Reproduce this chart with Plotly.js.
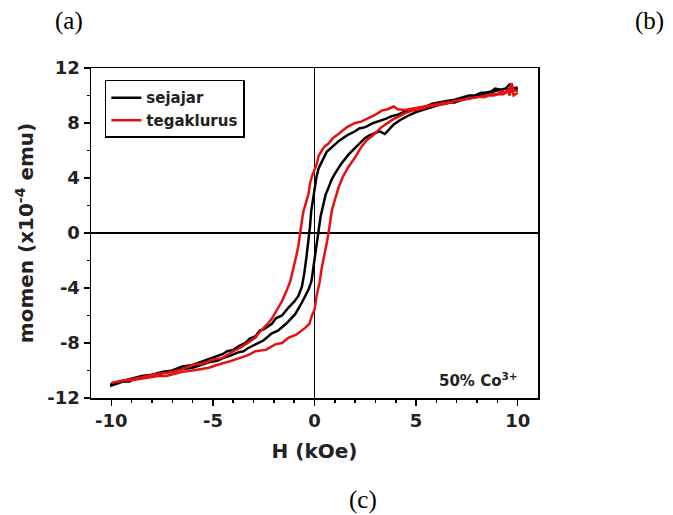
<!DOCTYPE html>
<html>
<head>
<meta charset="utf-8">
<script src="https://cdn.plot.ly/plotly-3.0.1.min.js"></script>
<style>html,body{margin:0;padding:0;background:#fff;}#chart{width:673px;height:515px;}</style>
</head>
<body>
<div id="chart"></div>
<script>
// sejajar (parallel) loop: descending branch then ascending branch
const sejajarH = [10.0, 9.8, 9.6, 9.4, 9.2, 8.9, 8.7, 8.4, 8.2, 7.9, 7.6, 7.2, 6.9, 6.5, 6.2, 5.8, 5.5, 5.2, 4.9, 4.6, 4.4, 4.1, 3.8, 3.5, 3.3, 2.9, 2.5, 2.2, 2.0, 1.6, 1.2, 0.9, 0.6, 0.4, 0.2, 0.1, 0.03, -0.05, -0.1, -0.16, -0.22, -0.29, -0.4, -0.5, -0.62, -0.8, -1.0, -1.27, -1.6, -1.9, -2.1, -2.5, -2.7, -2.9, -3.2, -3.4, -3.7, -4.0, -4.3, -4.5, -4.9, -5.2, -5.6, -6.0, -6.5, -7.0, -7.5, -8.0, -8.5, -9.0, -9.3, -9.6, -10.0,
  -10.0, -9.7, -9.5, -9.1, -8.8, -8.4, -8.0, -7.5, -7.0, -6.5, -6.0, -5.6, -5.2, -4.8, -4.5, -4.1, -3.8, -3.5, -3.3, -2.9, -2.5, -2.1, -1.8, -1.4, -0.95, -0.6, -0.29, -0.15, -0.05, 0.05, 0.11, 0.2, 0.3, 0.44, 0.55, 0.69, 0.85, 1.0, 1.3, 1.67, 2.0, 2.3, 2.48, 2.7, 2.9, 3.2, 3.46, 3.7, 3.9, 4.2, 4.44, 4.7, 5.0, 5.4, 5.7, 6.0, 6.3, 6.6, 6.9, 7.3, 7.6, 8.0, 8.3, 8.6, 8.9, 9.2, 9.4, 9.7, 10.0];
const sejajarM = [10.6, 10.5, 10.8, 10.5, 10.4, 10.5, 10.3, 10.2, 10.2, 10.0, 10.0, 9.8, 9.7, 9.6, 9.5, 9.4, 9.2, 9.1, 9.0, 8.9, 8.8, 8.6, 8.5, 8.3, 8.2, 8.0, 7.7, 7.6, 7.4, 7.1, 6.7, 6.3, 5.9, 5.3, 4.7, 4.1, 3.4, 2.8, 2.2, 1.6, 0.5, -0.6, -1.8, -2.9, -3.9, -4.6, -5.0, -5.4, -6.0, -6.2, -6.6, -7.0, -7.1, -7.5, -7.7, -8.0, -8.2, -8.5, -8.6, -8.8, -9.0, -9.2, -9.4, -9.6, -9.7, -10.0, -10.1, -10.3, -10.4, -10.6, -10.7, -10.9, -11.1,
  -11.0, -10.9, -10.8, -10.8, -10.5, -10.5, -10.4, -10.2, -10.1, -9.9, -9.8, -9.6, -9.4, -9.3, -9.1, -8.9, -8.7, -8.6, -8.4, -8.1, -7.8, -7.3, -7.1, -6.6, -5.9, -5.0, -4.1, -3.5, -2.4, -1.3, -0.6, 0.4, 1.2, 2.1, 2.8, 3.3, 3.9, 4.3, 5.0, 5.7, 6.2, 6.6, 6.9, 7.1, 7.2, 7.4, 7.2, 7.6, 7.9, 8.2, 8.4, 8.6, 8.8, 9.0, 9.1, 9.3, 9.4, 9.5, 9.5, 9.7, 9.8, 9.9, 10.1, 10.2, 10.3, 10.4, 10.5, 10.4, 10.4];
// tegaklurus (perpendicular) loop: descending branch then ascending branch
const tegakH = [10.0, 9.8, 9.7, 9.6, 9.4, 9.2, 9.0, 8.7, 8.4, 8.0, 7.7, 7.3, 6.9, 6.5, 6.1, 5.7, 5.4, 4.9, 4.44, 4.1, 3.9, 3.6, 3.3, 3.0, 2.7, 2.3, 2.0, 1.6, 1.18, 0.9, 0.69, 0.5, 0.36, 0.2, 0.11, 0.0, -0.13, -0.22, -0.29, -0.4, -0.54, -0.62, -0.7, -0.78, -0.87, -1.0, -1.19, -1.4, -1.6, -1.85, -2.09, -2.3, -2.5, -2.7, -2.9, -3.2, -3.6, -4.0, -4.54, -5.0, -5.5, -6.0, -6.5, -7.0, -7.5, -8.0, -8.5, -9.0, -9.3, -9.6, -10.0,
  -10.0, -9.7, -9.4, -9.0, -8.5, -8.1, -7.7, -7.3, -7.0, -6.5, -6.0, -5.6, -5.2, -4.8, -4.54, -4.1, -3.7, -3.3, -2.9, -2.4, -1.93, -1.6, -1.27, -0.9, -0.46, -0.25, -0.13, 0.0, 0.11, 0.25, 0.36, 0.5, 0.62, 0.69, 0.78, 0.85, 1.0, 1.18, 1.4, 1.67, 2.0, 2.32, 2.6, 2.8, 3.3, 3.6, 3.9, 4.2, 4.44, 4.8, 5.2, 5.6, 6.0, 6.5, 6.9, 7.3, 7.7, 8.1, 8.5, 8.8, 9.1, 9.3, 9.5, 9.6, 9.7, 9.8, 10.0];
const tegakM = [10.3, 10.4, 10.9, 10.4, 10.2, 10.3, 10.1, 10.1, 9.9, 9.9, 9.8, 9.7, 9.6, 9.5, 9.4, 9.3, 9.2, 9.1, 8.95, 9.0, 9.2, 9.0, 8.9, 8.6, 8.4, 8.1, 8.0, 7.7, 7.2, 6.9, 6.5, 6.3, 6.0, 5.6, 5.0, 4.6, 4.1, 3.6, 2.9, 2.3, 1.6, 0.9, 0.0, -0.8, -1.5, -2.4, -3.5, -4.3, -4.95, -5.6, -6.2, -6.6, -6.9, -7.2, -7.6, -7.9, -8.3, -8.6, -9.1, -9.2, -9.5, -9.6, -9.9, -10.1, -10.2, -10.3, -10.5, -10.6, -10.7, -10.8, -10.9,
  -10.9, -10.8, -10.7, -10.7, -10.6, -10.5, -10.4, -10.4, -10.3, -10.1, -10.0, -9.9, -9.8, -9.6, -9.5, -9.3, -9.1, -8.9, -8.6, -8.5, -8.1, -8.0, -7.6, -7.4, -6.9, -6.6, -6.0, -5.6, -4.5, -3.6, -2.5, -1.6, -0.6, 0.0, 0.9, 1.6, 2.4, 3.3, 4.1, 4.8, 5.5, 6.3, 6.8, 7.0, 7.7, 8.0, 8.3, 8.5, 8.7, 8.9, 9.0, 9.2, 9.3, 9.4, 9.6, 9.7, 9.8, 9.9, 10.0, 10.0, 10.1, 10.1, 10.4, 10.0, 10.6, 10.0, 10.2];

const tickLabelsX = ['-10', '-5', '0', '5', '10'];
const tickLabelsY = ['-12', '-8', '-4', '0', '4', '8', '12'];

const data = [
  {x: sejajarH, y: sejajarM, type: 'scatter', mode: 'lines', name: 'sejajar',
   line: {color: '#000000', width: 2.5}},
  {x: tegakH, y: tegakM, type: 'scatter', mode: 'lines', name: 'tegaklurus',
   line: {color: '#e8100f', width: 2.5}}
];

const sans = 'DejaVu Sans, Verdana, sans-serif';
const serif = 'Liberation Serif, Times New Roman, serif';
const tickFont = {family: sans, size: 18, color: '#222', weight: 'bold'};
const layout = {
  width: 673, height: 515,
  margin: {l: 91, r: 135, t: 68, b: 117},
  paper_bgcolor: '#ffffff', plot_bgcolor: '#ffffff',
  showlegend: true,
  legend: {x: 0.031, y: 0.964, xanchor: 'left', yanchor: 'top',
    bordercolor: '#000', borderwidth: 1.5, bgcolor: 'rgba(255,255,255,0)',
    font: {family: sans, size: 15, color: '#222', weight: 'bold'},
    tracegroupgap: 0, itemwidth: 30},
  xaxis: {range: [-11, 11], tickvals: [-10, -5, 0, 5, 10], ticktext: tickLabelsX,
    ticks: 'outside', ticklen: 6, tickwidth: 1.5, tickcolor: '#000',
    minor: {tickvals: [-9,-8,-7,-6,-4,-3,-2,-1,1,2,3,4,6,7,8,9], ticks: 'outside', ticklen: 3, tickwidth: 1.5, tickcolor: '#000'},
    showline: true, linecolor: '#000', linewidth: 1.5, mirror: true,
    showgrid: false, zeroline: true, zerolinecolor: '#000', zerolinewidth: 1.5,
    tickfont: tickFont,
    title: {text: 'H (kOe)', font: {family: sans, size: 20, color: '#222', weight: 'bold'}, standoff: 14}},
  yaxis: {range: [-12, 12], tickvals: [-12, -8, -4, 0, 4, 8, 12], ticktext: tickLabelsY,
    ticks: 'outside', ticklen: 6, tickwidth: 1.5, tickcolor: '#000',
    minor: {tickvals: [-10, -6, -2, 2, 6, 10], ticks: 'outside', ticklen: 3, tickwidth: 1.5, tickcolor: '#000'},
    showline: true, linecolor: '#000', linewidth: 1.5, mirror: true,
    showgrid: false, zeroline: true, zerolinecolor: '#000', zerolinewidth: 1.5,
    tickfont: tickFont,
    title: {text: 'momen (x10<sup>-4</sup> emu)', font: {family: sans, size: 20, color: '#222', weight: 'bold'}, standoff: 8}},
  annotations: [
    {text: '(a)', xref: 'paper', yref: 'paper', x: (69-91)/447, y: (398-21)/330, showarrow: false, xanchor: 'center', yanchor: 'middle',
     font: {family: serif, size: 25, color: '#000'}},
    {text: '(b)', xref: 'paper', yref: 'paper', x: (649-91)/447, y: (398-21)/330, showarrow: false, xanchor: 'center', yanchor: 'middle',
     font: {family: serif, size: 25, color: '#000'}},
    {text: '(c)', xref: 'paper', yref: 'paper', x: (363-91)/447, y: (398-500)/330, showarrow: false, xanchor: 'center', yanchor: 'middle',
     font: {family: serif, size: 25, color: '#000'}},
    {text: '50% Co<sup>3+</sup>', xref: 'paper', yref: 'paper', x: (478-91)/447, y: (398-380)/330, showarrow: false, xanchor: 'center', yanchor: 'middle',
     font: {family: sans, size: 15, color: '#222', weight: 'bold'}}
  ]
};

Plotly.newPlot('chart', data, layout, {displayModeBar: false, staticPlot: true});
</script>
</body>
</html>
